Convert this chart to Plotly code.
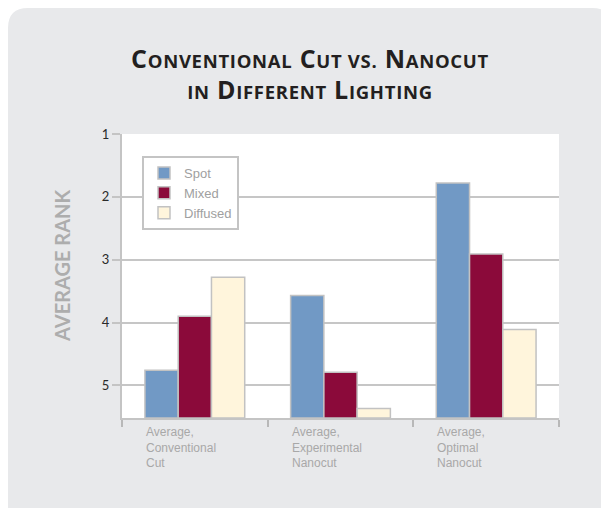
import plotly.graph_objects as go

categories = ["Average,<br>Conventional<br>Cut", "Average,<br>Experimental<br>Nanocut", "Average,<br>Optimal<br>Nanocut"]
series_names = ["Spot", "Mixed", "Diffused"]
spot = [4.76, 3.57, 1.78]
mixed = [3.90, 4.79, 2.91]
diffused = [3.28, 5.37, 4.11]
y_ticks = [1, 2, 3, 4, 5]
y_bottom = 5.52

colors = ["#7199c5", "#8b0a3a", "#fff5dc"]
cat_keys = ["c0", "c1", "c2"]

fig = go.Figure()
for name, vals, col in zip(series_names, [spot, mixed, diffused], colors):
    fig.add_trace(go.Bar(
        name=name, x=cat_keys, y=[y_bottom - v for v in vals], base=vals,
        marker=dict(color=col, line=dict(color="#c2c2c2", width=1.5)),
    ))

# figure is placed 8px from the page's top-left corner (body margin)
W, H = 601, 500
L, R, T, B = 114, 50, 126, 90
pw, ph = W - L - R, H - T - B

def px_x(px):
    return (px - L) / pw

def px_y(py):
    return (H - B - py) / ph

x0, x1 = px_x(0), px_x(604)
y0, y1 = px_y(H + 5), px_y(0)
rx, ry = 20 / pw, 20 / ph
panel = (f"M {x0},{y0} L {x0},{y1 - ry} Q {x0},{y1} {x0 + rx},{y1} "
         f"L {x1 - rx},{y1} Q {x1},{y1} {x1},{y1 - ry} L {x1},{y0} Z")

shapes = [
    dict(type="path", path=panel, xref="paper", yref="paper", fillcolor="#e8e9eb",
         line=dict(width=0), layer="below"),
    dict(type="rect", x0=0, x1=1, y0=0, y1=1, xref="paper", yref="paper",
         fillcolor="white", line=dict(width=0), layer="below"),
]

b = "<span style='font-size:25px;letter-spacing:0.7px'>"
s = "<span style='font-size:18.5px;letter-spacing:0.7px'>"
title = (f"{b}C</span>{s}ONVENTIONAL</span>{b} C</span>{s}UT VS.</span>{b} N</span>{s}ANOCUT</span><br>"
         f"{s}IN</span>{b} D</span>{s}IFFERENT</span>{b} L</span>{s}IGHTING</span>")

annotations = []
for key, cat in zip(cat_keys, categories):
    annotations.append(dict(
        x=key, xref="x", y=px_y(415), yref="paper", text=cat, showarrow=False,
        xanchor="left", yanchor="top", xshift=-51, align="left",
        font=dict(family="Liberation Sans, Arial", size=12, color="#a8a8a8"),
    ))
annotations.append(dict(
    x=px_x(54), xref="paper", y=px_y(258), yref="paper", text="AVERAGE RANK",
    textangle=-90, showarrow=False, xanchor="center", yanchor="middle",
    font=dict(family="Lato", size=20, color="#adadad", weight="bold"),
))

fig.update_layout(
    width=W, height=H,
    margin=dict(l=L, r=R, t=T, b=B),
    paper_bgcolor="white", plot_bgcolor="white",
    barmode="group", bargap=0.315, bargroupgap=0,
    showlegend=True,
    title=dict(text=title, xref="container", x=302 / W, xanchor="center",
               yref="container", y=1 - 60 / H, yanchor="top",
               font=dict(family="Open Sans", size=23.5, color="#231f20", weight="bold")),
    legend=dict(x=px_x(134), y=px_y(148), xanchor="left", yanchor="top",
                bgcolor="white", bordercolor="#c4c4c4", borderwidth=2,
                font=dict(family="Liberation Sans, Arial", size=13, color="#a0a0a0"),
                tracegroupgap=0, itemwidth=30),
    xaxis=dict(showticklabels=False, ticks="outside", tickson="boundaries",
               ticklen=7, tickwidth=1.5, tickcolor="#b8b8b8",
               showline=True, linecolor="#c4c4c4", linewidth=2, showgrid=False,
               fixedrange=True),
    yaxis=dict(range=[y_bottom, 1], tickvals=y_ticks, ticktext=[str(t) for t in y_ticks],
               ticks="outside", ticklen=8, tickwidth=2, tickcolor="#c4c4c4",
               showline=True, linecolor="#c4c4c4", linewidth=2,
               showgrid=True, gridcolor="#c6c6c6", gridwidth=2, zeroline=False,
               tickfont=dict(family="Lato", size=13, color="#2a2a2a"), fixedrange=True),
    shapes=shapes, annotations=annotations,
)

fig.write_html("out.html")
